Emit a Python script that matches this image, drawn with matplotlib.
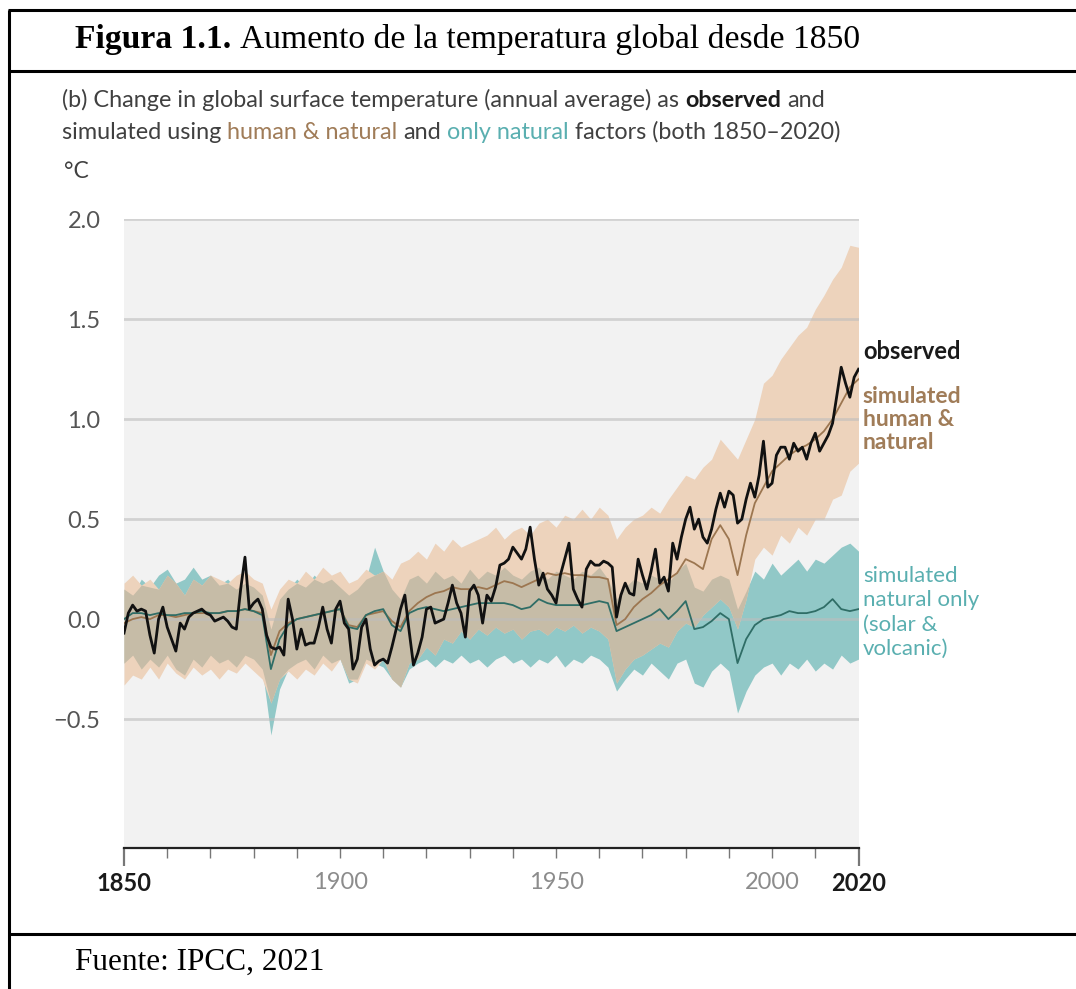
import matplotlib
matplotlib.use("Agg")
import matplotlib.pyplot as plt
import numpy as np
from matplotlib.lines import Line2D

plt.rcParams['font.family'] = ['Lato', 'DejaVu Sans']

# observed annual global surface temperature change (°C)
years = np.arange(1850, 2021)
observed = [
    -0.07, 0.03, 0.07, 0.04, 0.05, 0.04, -0.08, -0.17, 0.00, 0.06,
    -0.04, -0.10, -0.16, -0.02, -0.05, 0.01, 0.03, 0.04, 0.05, 0.03,
    0.02, -0.01, 0.00, 0.01, -0.01, -0.04, -0.05, 0.15, 0.31, 0.05,
    0.08, 0.10, 0.05, -0.08, -0.14, -0.15, -0.14, -0.18, 0.10, 0.00,
    -0.15, -0.05, -0.13, -0.12, -0.12, -0.04, 0.06, -0.05, -0.12, 0.05,
    0.09, -0.02, -0.05, -0.25, -0.20, -0.04, 0.00, -0.15, -0.23, -0.21,
    -0.20, -0.22, -0.14, -0.05, 0.05, 0.12, -0.06, -0.23, -0.17, -0.09,
    0.05, 0.06, -0.02, -0.01, 0.00, 0.08, 0.17, 0.08, 0.03, -0.09,
    0.14, 0.17, 0.12, -0.02, 0.12, 0.09, 0.16, 0.27, 0.28, 0.30,
    0.36, 0.33, 0.30, 0.35, 0.46, 0.30, 0.17, 0.23, 0.15, 0.12,
    0.08, 0.22, 0.30, 0.38, 0.15, 0.10, 0.06, 0.25, 0.29, 0.27,
    0.27, 0.29, 0.28, 0.26, 0.01, 0.12, 0.18, 0.13, 0.12, 0.30,
    0.22, 0.15, 0.24, 0.35, 0.18, 0.21, 0.14, 0.38, 0.30, 0.41,
    0.50, 0.56, 0.45, 0.50, 0.41, 0.38, 0.45, 0.55, 0.63, 0.56,
    0.64, 0.62, 0.48, 0.50, 0.60, 0.68, 0.61, 0.72, 0.89, 0.66,
    0.68, 0.82, 0.86, 0.86, 0.80, 0.88, 0.84, 0.86, 0.80, 0.88,
    0.93, 0.84, 0.88, 0.92, 0.98, 1.12, 1.26, 1.18, 1.11, 1.21,
    1.25,
]

# model simulations, every second year
years_sim = np.arange(1850, 2021, 2)
human_natural = [
    -0.02, 0.00, 0.01, 0.00, 0.02, 0.02, 0.01, 0.02, 0.03, 0.03,
    0.03, 0.03, 0.04, 0.04, 0.05, 0.04, 0.03, -0.18, -0.06, -0.02,
    0.00, 0.01, 0.02, 0.03, 0.04, 0.05, -0.03, -0.04, 0.02, 0.03,
    0.04, -0.01, -0.04, 0.04, 0.08, 0.11, 0.13, 0.14, 0.16, 0.15,
    0.15, 0.16, 0.15, 0.17, 0.19, 0.18, 0.16, 0.18, 0.20, 0.23,
    0.22, 0.23, 0.22, 0.22, 0.21, 0.21, 0.20, -0.03, 0.00, 0.06,
    0.10, 0.13, 0.17, 0.20, 0.23, 0.30, 0.28, 0.25, 0.40, 0.47,
    0.40, 0.22, 0.42, 0.58, 0.66, 0.74, 0.78, 0.82, 0.85, 0.87,
    0.90, 0.94, 1.00, 1.08, 1.16, 1.20,
]
human_natural_hi = [
    0.18, 0.22, 0.17, 0.20, 0.15, 0.22, 0.18, 0.12, 0.20, 0.17,
    0.22, 0.20, 0.18, 0.22, 0.24, 0.20, 0.18, 0.05, 0.15, 0.20,
    0.18, 0.24, 0.20, 0.26, 0.22, 0.24, 0.18, 0.20, 0.25, 0.22,
    0.24, 0.20, 0.28, 0.30, 0.34, 0.30, 0.38, 0.34, 0.40, 0.36,
    0.38, 0.40, 0.42, 0.46, 0.40, 0.44, 0.46, 0.42, 0.48, 0.50,
    0.46, 0.52, 0.50, 0.55, 0.50, 0.56, 0.52, 0.40, 0.46, 0.50,
    0.52, 0.56, 0.53, 0.60, 0.66, 0.72, 0.70, 0.76, 0.80, 0.90,
    0.85, 0.80, 0.90, 1.00, 1.18, 1.22, 1.30, 1.36, 1.42, 1.46,
    1.55, 1.62, 1.70, 1.76, 1.87, 1.86,
]
human_natural_lo = [
    -0.33, -0.28, -0.30, -0.24, -0.30, -0.22, -0.27, -0.30, -0.24, -0.28,
    -0.25, -0.30, -0.25, -0.27, -0.22, -0.26, -0.30, -0.42, -0.30, -0.26,
    -0.30, -0.25, -0.28, -0.22, -0.26, -0.20, -0.30, -0.32, -0.22, -0.25,
    -0.20, -0.30, -0.34, -0.22, -0.20, -0.14, -0.18, -0.10, -0.12, -0.06,
    -0.10, -0.05, -0.08, -0.04, -0.07, -0.05, -0.10, -0.06, -0.05, -0.08,
    -0.04, -0.06, -0.03, -0.07, -0.04, -0.06, -0.10, -0.32, -0.25, -0.20,
    -0.18, -0.15, -0.12, -0.14, -0.06, -0.02, -0.04, 0.02, 0.06, 0.10,
    0.06, -0.05, 0.10, 0.30, 0.36, 0.32, 0.42, 0.38, 0.46, 0.42,
    0.50, 0.50, 0.60, 0.62, 0.74, 0.78,
]
natural = [
    0.00, 0.03, 0.03, 0.02, 0.03, 0.02, 0.02, 0.03, 0.03, 0.04,
    0.03, 0.03, 0.04, 0.04, 0.05, 0.04, 0.02, -0.25, -0.10, -0.03,
    0.00, 0.01, 0.02, 0.03, 0.04, 0.05, -0.04, -0.05, 0.02, 0.04,
    0.05, -0.03, -0.06, 0.03, 0.05, 0.06, 0.05, 0.04, 0.05, 0.06,
    0.07, 0.08, 0.08, 0.08, 0.08, 0.07, 0.05, 0.06, 0.10, 0.08,
    0.07, 0.07, 0.07, 0.07, 0.08, 0.09, 0.08, -0.06, -0.04, -0.02,
    0.00, 0.02, 0.05, 0.00, 0.04, 0.09, -0.05, -0.04, -0.01, 0.03,
    0.00, -0.22, -0.10, -0.03, 0.00, 0.01, 0.02, 0.04, 0.03, 0.03,
    0.04, 0.06, 0.10, 0.05, 0.04, 0.05,
]
natural_hi = [
    0.15, 0.12, 0.20, 0.16, 0.22, 0.25, 0.18, 0.20, 0.26, 0.20,
    0.22, 0.17, 0.20, 0.15, 0.18, 0.16, 0.12, -0.05, 0.10, 0.15,
    0.20, 0.16, 0.22, 0.18, 0.20, 0.16, 0.12, 0.15, 0.20, 0.36,
    0.24, 0.15, 0.10, 0.20, 0.22, 0.18, 0.24, 0.20, 0.22, 0.18,
    0.25, 0.20, 0.24, 0.22, 0.26, 0.22, 0.20, 0.24, 0.26, 0.20,
    0.24, 0.22, 0.20, 0.24, 0.22, 0.26, 0.20, 0.10, 0.16, 0.20,
    0.18, 0.22, 0.20, 0.18, 0.24, 0.28, 0.16, 0.14, 0.20, 0.22,
    0.20, 0.05, 0.14, 0.24, 0.20, 0.28, 0.22, 0.26, 0.30, 0.24,
    0.30, 0.28, 0.32, 0.36, 0.38, 0.34,
]
natural_lo = [
    -0.22, -0.18, -0.25, -0.20, -0.24, -0.18, -0.25, -0.28, -0.20, -0.24,
    -0.18, -0.22, -0.20, -0.24, -0.18, -0.20, -0.25, -0.58, -0.35, -0.25,
    -0.22, -0.20, -0.25, -0.18, -0.22, -0.20, -0.32, -0.30, -0.20, -0.22,
    -0.24, -0.30, -0.34, -0.25, -0.22, -0.20, -0.24, -0.20, -0.22, -0.18,
    -0.22, -0.20, -0.24, -0.20, -0.18, -0.22, -0.20, -0.24, -0.20, -0.22,
    -0.18, -0.24, -0.20, -0.22, -0.18, -0.20, -0.24, -0.36, -0.30, -0.25,
    -0.28, -0.22, -0.26, -0.30, -0.22, -0.20, -0.32, -0.34, -0.26, -0.22,
    -0.26, -0.47, -0.36, -0.28, -0.24, -0.22, -0.28, -0.22, -0.25, -0.20,
    -0.26, -0.22, -0.25, -0.18, -0.22, -0.20,
]

labeled_years = [1850, 1900, 1950, 2000, 2020]
y_ticks = [-0.5, 0.0, 0.5, 1.0, 1.5, 2.0]
y_ticklabels = ['\u22120.5', '0.0', '0.5', '1.0', '1.5', '2.0']

PEACH = '#edd3bc'
TEAL = '#91c8c7'
OVERLAP = '#c6bca7'
BROWN_LINE = '#9c7650'
GREEN_LINE = '#2f6d66'
BROWN_TEXT = '#a07c58'
TEAL_TEXT = '#5aafb0'
GREY_TEXT = '#404040'

W, H = 1076, 989
fig = plt.figure(figsize=(W / 100, H / 100), dpi=100)
ax = fig.add_axes([124 / W, 1 - 848 / H, (858.5 - 124) / W, (848 - 219.3) / H])
ax.set_facecolor('#f2f2f2')

hn_lo, hn_hi = np.array(human_natural_lo), np.array(human_natural_hi)
nat_lo, nat_hi = np.array(natural_lo), np.array(natural_hi)
ov_lo, ov_hi = np.maximum(hn_lo, nat_lo), np.minimum(hn_hi, nat_hi)

ax.fill_between(years_sim, nat_lo, nat_hi, color=TEAL, lw=0, zorder=1)
ax.fill_between(years_sim, hn_lo, hn_hi, color=PEACH, lw=0, zorder=1)
ax.fill_between(years_sim, ov_lo, ov_hi, where=ov_hi > ov_lo, interpolate=True,
                color=OVERLAP, lw=0, zorder=1)

for v in y_ticks:
    ax.axhline(v, color='#bdbdbd', alpha=0.6, lw=2, zorder=1.5)

ax.plot(years_sim, human_natural, color=BROWN_LINE, lw=1.3, zorder=2)
ax.plot(years_sim, natural, color=GREEN_LINE, lw=1.3, zorder=2)
ax.plot(years, observed, color='#111111', lw=2.0, zorder=3)

ax.set_xlim(1850, 2020)
ax.set_ylim(-1.145, 2.0)
for side in ['top', 'right', 'left']:
    ax.spines[side].set_visible(False)
ax.spines['bottom'].set_color('#222222')
ax.spines['bottom'].set_linewidth(1.6)

ax.set_yticks(y_ticks)
ax.set_yticklabels(y_ticklabels)
ax.tick_params(axis='y', length=0, pad=17, labelsize=17, labelcolor='#555555')

decades = np.arange(1850, 2021, 10)
ax.set_xticks(decades)
ax.set_xticklabels([str(d) if d in labeled_years else '' for d in decades])
ax.tick_params(axis='x', length=7, width=1.0, color='#777777', pad=10, labelsize=17)
for t in ax.xaxis.get_major_ticks():
    if t.get_loc() in (1850, 2020):
        t.tick1line.set_markersize(13)
        t.tick1line.set_markeredgewidth(1.6)
        t.tick1line.set_color('#222222')
        t.label1.set_fontweight('bold')
        t.label1.set_color('#1a1a1a')
    else:
        t.label1.set_color('#8c8c8c')

# series labels to the right of the plot
ax.text(2021, 1.337, 'observed', fontsize=17, fontweight='bold', color='#1a1a1a',
        va='center', ha='left', clip_on=False)
ax.text(2021, 1.167, 'simulated\nhuman &\nnatural', fontsize=16.5, fontweight='bold',
        color=BROWN_TEXT, va='top', ha='left', linespacing=1.11, clip_on=False)
ax.text(2021, 0.265, 'simulated\nnatural only\n(solar &\nvolcanic)', fontsize=16,
        color=TEAL_TEXT, va='top', ha='left', linespacing=1.26, clip_on=False)

renderer = fig.canvas.get_renderer()


def text_width(s, **kw):
    t = fig.text(0, 0, s, **kw)
    w = t.get_window_extent(renderer).width
    t.remove()
    return w


def rich_line(x, y, pieces, size, family=None):
    base = dict(fontsize=size)
    if family:
        base['family'] = family
    space = text_width('a a', **base) - text_width('aa', **base)
    for s, color, weight in pieces:
        body = s.rstrip(' ')
        fig.text(x, y, body, color=color, fontweight=weight, va='baseline', ha='left', **base)
        w = text_width(body, fontweight=weight, **base)
        w += space * (len(s) - len(body))
        x += w / W


rich_line(62 / W, 1 - 107 / H, [
    ('(b) Change in global surface temperature (annual average) as ', GREY_TEXT, 'normal'),
    ('observed ', '#1a1a1a', 'bold'),
    ('and', GREY_TEXT, 'normal'),
], 16.8)
rich_line(62 / W, 1 - 139 / H, [
    ('simulated using ', GREY_TEXT, 'normal'),
    ('human & natural ', BROWN_TEXT, 'normal'),
    ('and ', GREY_TEXT, 'normal'),
    ('only natural ', TEAL_TEXT, 'normal'),
    ('factors (both 1850\u20132020)', GREY_TEXT, 'normal'),
], 16.8)
fig.text(64 / W, 1 - 171 / H, '\u00b0C', fontsize=16.5, color=GREY_TEXT, va='center', ha='left')

# table frame around the figure
serif = ['Liberation Serif', 'DejaVu Serif']
rich_line(75 / W, 1 - 48 / H, [
    ('Figura 1.1. ', 'black', 'bold'),
    ('Aumento de la temperatura global desde 1850', 'black', 'normal'),
], 24.2, family=serif)
fig.text(75 / W, 1 - 970 / H, 'Fuente: IPCC, 2021', fontsize=22.5, family=serif,
         color='black', va='baseline', ha='left')

frame = dict(color='black', lw=2.2, transform=fig.transFigure, solid_capstyle='butt')
fig.add_artist(Line2D([9 / W, 9 / W], [1 - 10 / H, 0], **frame))
fig.add_artist(Line2D([8 / W, 1], [1 - 10 / H, 1 - 10 / H], **frame))
fig.add_artist(Line2D([8 / W, 1], [1 - 71 / H, 1 - 71 / H], **frame))
fig.add_artist(Line2D([8 / W, 1], [1 - 934 / H, 1 - 934 / H], **frame))

fig.savefig('out.png', dpi=100, facecolor='white')
